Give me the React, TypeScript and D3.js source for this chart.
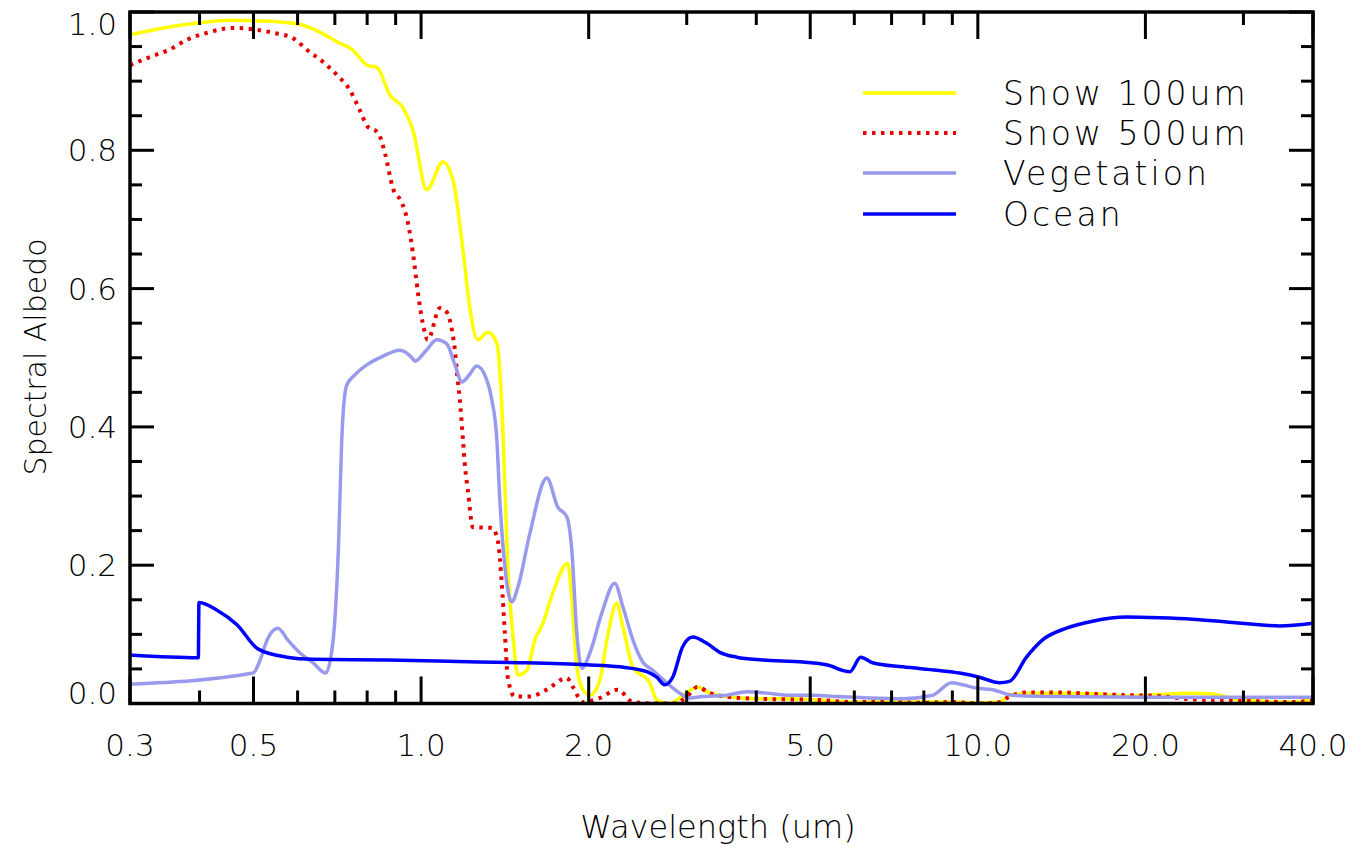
import React, { useEffect, useRef } from 'react';
import * as d3 from 'd3';

type Pt = [number, number];

// wavelength (um), spectral albedo
const snow100: Pt[] = [
  [0.3, 0.967], [0.344, 0.977], [0.396, 0.984], [0.454, 0.988], [0.52, 0.987], [0.598, 0.983],
  [0.658, 0.971], [0.706, 0.957], [0.754, 0.945], [0.8, 0.923], [0.833, 0.92], [0.879, 0.88],
  [0.927, 0.862], [0.967, 0.829], [1.024, 0.743], [1.094, 0.783], [1.141, 0.757], [1.189, 0.656],
  [1.223, 0.573], [1.264, 0.526], [1.318, 0.537], [1.368, 0.521], [1.402, 0.4], [1.431, 0.198],
  [1.461, 0.102], [1.492, 0.041], [1.549, 0.048], [1.601, 0.092], [1.655, 0.116], [1.724, 0.16],
  [1.835, 0.203], [1.865, 0.15], [1.904, 0.053], [1.952, 0.02], [2.01, 0.012], [2.095, 0.034],
  [2.156, 0.092], [2.247, 0.145], [2.304, 0.111], [2.401, 0.053], [2.575, 0.03], [2.65, 0.005],
  [2.797, 0.0], [3.0, 0.016], [3.138, 0.024], [3.3, 0.015], [3.54, 0.01], [3.94, 0.007],
  [4.54, 0.007], [5.2, 0.005], [5.96, 0.002], [6.86, 0.002], [7.86, 0.002], [9.01, 0.002],
  [10.07, 0.001], [10.94, 0.002], [11.4, 0.012], [12.23, 0.015], [14.02, 0.015], [16.07, 0.014],
  [18.5, 0.011], [24.29, 0.015], [26.07, 0.014], [29.9, 0.005], [36.7, 0.002], [40, 0.006],
];

const snow500: Pt[] = [
  [0.3, 0.923], [0.326, 0.935], [0.354, 0.946], [0.38, 0.96], [0.413, 0.97], [0.459, 0.977],
  [0.499, 0.975], [0.542, 0.97], [0.589, 0.962], [0.624, 0.945], [0.666, 0.928], [0.706, 0.909],
  [0.745, 0.887], [0.776, 0.858], [0.802, 0.834], [0.836, 0.826], [0.861, 0.796], [0.89, 0.745],
  [0.924, 0.724], [0.947, 0.695], [0.967, 0.651], [0.987, 0.594], [1.007, 0.55], [1.028, 0.526],
  [1.081, 0.572], [1.112, 0.566], [1.136, 0.54], [1.15, 0.511], [1.16, 0.478], [1.174, 0.439],
  [1.189, 0.381], [1.2, 0.34], [1.213, 0.309], [1.239, 0.255], [1.34, 0.254], [1.373, 0.236],
  [1.396, 0.174], [1.414, 0.102], [1.431, 0.038], [1.473, 0.01], [1.568, 0.01], [1.682, 0.02],
  [1.827, 0.037], [1.873, 0.024], [1.952, 0.002], [2.095, 0.008], [2.255, 0.02], [2.401, 0.002],
  [2.65, 0.0], [2.85, 0.0], [3.0, 0.01], [3.138, 0.024], [3.3, 0.015], [3.54, 0.01],
  [3.94, 0.007], [4.54, 0.006], [5.2, 0.005], [5.96, 0.002], [6.86, 0.002], [7.86, 0.001],
  [9.01, 0.002], [10.07, 0.0], [10.94, 0.002], [11.4, 0.01], [12.23, 0.016], [14.02, 0.016],
  [16.07, 0.014], [18.5, 0.012], [21.0, 0.011], [24.29, 0.006], [29.9, 0.004], [36.7, 0.002],
  [40, 0.005],
];

const vegetation: Pt[] = [
  [0.3, 0.028], [0.499, 0.044], [0.514, 0.063], [0.529, 0.092], [0.553, 0.109], [0.576, 0.092],
  [0.606, 0.073], [0.639, 0.059], [0.674, 0.044], [0.694, 0.087], [0.709, 0.207], [0.722, 0.4],
  [0.735, 0.46], [0.76, 0.475], [0.8, 0.49], [0.843, 0.5], [0.916, 0.511], [0.963, 0.5],
  [0.975, 0.495], [1.02, 0.51], [1.067, 0.526], [1.112, 0.52], [1.15, 0.49], [1.184, 0.465],
  [1.22, 0.475], [1.259, 0.488], [1.312, 0.468], [1.34, 0.439], [1.368, 0.381], [1.385, 0.294],
  [1.414, 0.198], [1.455, 0.147], [1.492, 0.168], [1.568, 0.246], [1.682, 0.326], [1.76, 0.284],
  [1.827, 0.27], [1.865, 0.222], [1.904, 0.102], [1.944, 0.051], [2.01, 0.073], [2.112, 0.131],
  [2.227, 0.174], [2.304, 0.14], [2.401, 0.092], [2.501, 0.06], [2.607, 0.048], [2.762, 0.03],
  [2.914, 0.015], [3.037, 0.008], [3.2, 0.01], [3.54, 0.012], [3.85, 0.017], [4.18, 0.015],
  [4.54, 0.012], [5.05, 0.012], [5.58, 0.01], [6.39, 0.008], [7.33, 0.007], [8.3, 0.012],
  [8.97, 0.03], [9.39, 0.027], [10.0, 0.022], [10.63, 0.02], [11.55, 0.012], [14.0, 0.01],
  [21.2, 0.009], [40, 0.009],
];

const ocean: Pt[] = [
  [0.3, 0.07], [0.398, 0.066], [0.399, 0.146], [0.43, 0.135], [0.467, 0.114], [0.509, 0.079],
  [0.574, 0.067], [0.639, 0.064], [0.868, 0.063], [1.264, 0.06], [1.504, 0.059], [1.984, 0.056],
  [2.274, 0.053], [2.543, 0.046], [2.65, 0.038], [2.739, 0.027], [2.831, 0.038], [2.95, 0.082],
  [3.075, 0.096], [3.26, 0.087], [3.44, 0.074], [3.69, 0.067], [4.11, 0.063], [4.85, 0.06],
  [5.35, 0.056], [5.89, 0.046], [6.16, 0.067], [6.47, 0.059], [7.33, 0.053], [8.43, 0.048],
  [9.27, 0.044], [10.07, 0.038], [10.94, 0.03], [11.4, 0.032], [12.23, 0.067], [13.07, 0.092],
  [14.43, 0.109], [16.07, 0.119], [18.5, 0.125], [21.2, 0.124], [24.29, 0.122], [27.97, 0.118],
  [32.05, 0.114], [34.8, 0.112], [40, 0.116],
];

const xMajorTicks = [0.3, 0.5, 1, 2, 5, 10, 20, 40];
const xMinorTicks = [0.4, 0.6, 0.7, 0.8, 0.9, 3, 4, 6, 7, 8, 9, 30];
const yMajorTicks = [0, 0.2, 0.4, 0.6, 0.8, 1.0];
const yMinorTicks = [0.05, 0.1, 0.15, 0.25, 0.3, 0.35, 0.45, 0.5, 0.55, 0.65, 0.7, 0.75, 0.85, 0.9, 0.95];

const series = [
  { name: 'Snow 100um', data: snow100, color: '#ffff00', dash: null as string | null, width: 3.5 },
  { name: 'Snow 500um', data: snow500, color: '#e60000', dash: '3.5,5.5', width: 4 },
  { name: 'Vegetation', data: vegetation, color: '#9999ee', dash: null, width: 3.5 },
  { name: 'Ocean', data: ocean, color: '#0000ff', dash: null, width: 3.5 },
];

const FONT = '"DejaVu Sans", sans-serif';

const App: React.FC = () => {
  const svgRef = useRef<SVGSVGElement>(null);

  useEffect(() => {
    if (!svgRef.current) return;
    const svg = d3.select(svgRef.current);
    svg.selectAll('*').remove();

    const left = 130, right = 1313, top = 12, bottom = 703.5;

    const x = d3.scaleLog().domain([0.3, 40]).range([left, right]);
    const y = d3.scaleLinear().domain([0, 1]).range([bottom, top]);

    svg.append('clipPath').attr('id', 'plot-clip')
      .append('rect')
      .attr('x', left).attr('y', top)
      .attr('width', right - left).attr('height', bottom - top);

    const line = d3.line<Pt>()
      .x((d) => x(d[0]))
      .y((d) => y(d[1]))
      .curve(d3.curveMonotoneX);

    const plot = svg.append('g').attr('clip-path', 'url(#plot-clip)');
    series.forEach((s) => {
      const p = plot.append('path')
        .datum(s.data)
        .attr('d', line)
        .attr('fill', 'none')
        .attr('stroke', s.color)
        .attr('stroke-width', s.width)
        .attr('stroke-linejoin', 'round');
      if (s.dash) p.attr('stroke-dasharray', s.dash);
    });

    // frame
    svg.append('rect')
      .attr('x', left).attr('y', top)
      .attr('width', right - left).attr('height', bottom - top)
      .attr('fill', 'none').attr('stroke', '#000').attr('stroke-width', 3.5);

    const ticks = svg.append('g').attr('stroke', '#000').attr('stroke-width', 3);
    const xt = (v: number, len: number) => {
      ticks.append('line').attr('x1', x(v)).attr('x2', x(v)).attr('y1', bottom).attr('y2', bottom - len);
      ticks.append('line').attr('x1', x(v)).attr('x2', x(v)).attr('y1', top).attr('y2', top + len);
    };
    const yt = (v: number, len: number) => {
      ticks.append('line').attr('y1', y(v)).attr('y2', y(v)).attr('x1', left).attr('x2', left + len);
      ticks.append('line').attr('y1', y(v)).attr('y2', y(v)).attr('x1', right).attr('x2', right - len);
    };
    xMajorTicks.forEach((v) => xt(v, 27));
    xMinorTicks.forEach((v) => xt(v, 13));
    yMajorTicks.forEach((v) => yt(v, 24));
    yMinorTicks.forEach((v) => yt(v, 12));

    const fmt = d3.format('.1f');
    svg.append('g')
      .selectAll('text')
      .data(xMajorTicks)
      .enter()
      .append('text')
      .attr('x', (d) => x(d))
      .attr('y', 756)
      .attr('text-anchor', 'middle')
      .style('font-family', FONT)
      .style('font-weight', '200')
      .style('font-size', '31px')
      .text((d) => fmt(d));

    svg.append('g')
      .selectAll('text')
      .data(yMajorTicks)
      .enter()
      .append('text')
      .attr('x', 117)
      .attr('y', (d) => Math.min(Math.max(y(d), 24), 693) + 11)
      .attr('text-anchor', 'end')
      .style('font-family', FONT)
      .style('font-weight', '200')
      .style('font-size', '31px')
      .text((d) => fmt(d));

    svg.append('text')
      .attr('x', 718)
      .attr('y', 838)
      .attr('text-anchor', 'middle')
      .style('font-family', FONT)
      .style('font-weight', '200')
      .style('font-size', '32px')
      .text('Wavelength (um)');

    svg.append('text')
      .attr('transform', `translate(46,357) rotate(-90)`)
      .attr('text-anchor', 'middle')
      .style('font-family', FONT)
      .style('font-weight', '200')
      .style('font-size', '30px')
      .text('Spectral Albedo');

    // legend
    const legendRows = [93, 133, 173, 214];
    const legend = svg.append('g');
    series.forEach((s, i) => {
      const ly = legendRows[i];
      const l = legend.append('line')
        .attr('x1', 863).attr('x2', 956)
        .attr('y1', ly).attr('y2', ly)
        .attr('stroke', s.color)
        .attr('stroke-width', s.width);
      if (s.dash) l.attr('stroke-dasharray', s.dash);
      legend.append('text')
        .attr('x', 1003)
        .attr('y', ly + 12)
        .style('font-family', FONT)
        .style('font-weight', '200')
        .style('font-size', '33px')
        .style('letter-spacing', '3px')
        .style('white-space', 'pre')
        .text(s.name);
    });
  }, []);

  return (
    <svg
      ref={svgRef}
      width={1369}
      height={850}
      style={{ position: 'absolute', left: 0, top: 0, background: '#fff' }}
    />
  );
};

export default App;
